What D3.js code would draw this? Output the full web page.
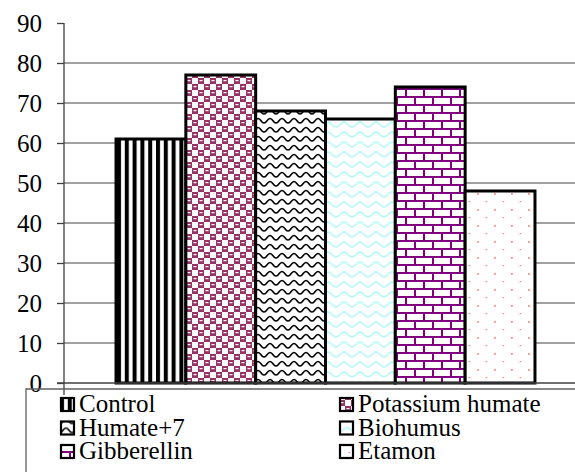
<!DOCTYPE html>
<html><head><meta charset="utf-8">
<script src="https://cdn.jsdelivr.net/npm/d3@7"></script>
<style>html,body{margin:0;padding:0;background:#fff;font-family:"Liberation Serif",serif;}
#chart{position:relative;width:575px;height:472px;}
svg{display:block;}</style>
</head><body>
<div id="chart"></div>
<script>
const series = ["Control","Potassium humate","Humate+7","Biohumus","Gibberellin","Etamon"];
const values = [61, 77, 68, 66, 74, 48];
const yTicks = [0,10,20,30,40,50,60,70,80,90];
const patternIds = ["pControl","pPotassium","pHumate","pBio","pGib","pEta"];

const FONT = "Liberation Serif, serif";
const W = 575, H = 472;
const svg = d3.select("#chart").append("svg").attr("width", W).attr("height", H)
  .attr("font-family", FONT).style("font-family", "Liberation Serif, serif");
const defs = svg.append("defs");

function pat(id, w, h){ return defs.append("pattern").attr("id", id).attr("patternUnits","userSpaceOnUse").attr("width", w).attr("height", h); }
let p = pat("pControl", 7.8, 8);
p.append("rect").attr("width",7.8).attr("height",8).attr("fill","#fff");
p.append("rect").attr("width",4).attr("height",8).attr("fill","#000");

p = pat("pPotassium", 12, 12);
p.append("rect").attr("width",12).attr("height",12).attr("fill","#993366");
p.append("rect").attr("x",6).attr("y",0).attr("width",6).attr("height",6).attr("fill","#fff");
p.append("rect").attr("x",0).attr("y",6).attr("width",6).attr("height",6).attr("fill","#fff");
p.append("rect").attr("x",1.5).attr("y",2).attr("width",3).attr("height",1.2).attr("fill","#fff");
p.append("rect").attr("x",7.5).attr("y",8).attr("width",3).attr("height",1.2).attr("fill","#fff");

p = pat("pHumate", 12, 9);
p.append("rect").attr("width",12).attr("height",9).attr("fill","#fff");
p.append("path").attr("d","M0,6 C3,6 3,1.5 6,1.5 C9,1.5 9,6 12,6").attr("fill","none").attr("stroke","#000").attr("stroke-width",1.6);

p = pat("pBio", 16, 10);
p.append("rect").attr("width",16).attr("height",10).attr("fill","#fff");
p.append("path").attr("d","M0,7 C4,7 4,2 8,2 C12,2 12,7 16,7").attr("fill","none").attr("stroke","#c0f8f8").attr("stroke-width",1.8);

p = pat("pGib", 18, 16);
p.append("rect").attr("width",18).attr("height",16).attr("fill","#fff");
p.append("rect").attr("x",0).attr("y",0).attr("width",18).attr("height",2).attr("fill","#800080");
p.append("rect").attr("x",0).attr("y",8).attr("width",18).attr("height",2).attr("fill","#800080");
p.append("rect").attr("x",0).attr("y",0).attr("width",2).attr("height",8).attr("fill","#800080");
p.append("rect").attr("x",9).attr("y",8).attr("width",2).attr("height",8).attr("fill","#800080");

p = pat("pEta", 17, 16);
p.append("rect").attr("width",17).attr("height",16).attr("fill","#fff");
p.append("rect").attr("x",1).attr("y",1).attr("width",1.8).attr("height",1.8).attr("fill","#ff8a8a");
p.append("rect").attr("x",9.5).attr("y",9).attr("width",1.8).attr("height",1.2).attr("fill","#ff8a8a");

const axisX = 64, plotRight = 587;
const y = d3.scaleLinear().domain([0, 90]).range([383, 23]);
const x = d3.scaleBand().domain(series).range([axisX, plotRight]).paddingInner(0).paddingOuter(0.745);

svg.append("g").selectAll("line").data(yTicks.filter(t => t > 0 && t < 90)).join("line")
  .attr("x1", axisX).attr("x2", W).attr("y1", d => y(d)).attr("y2", d => y(d))
  .attr("stroke", "#808080").attr("stroke-width", 1.5);

const yAxis = d3.axisLeft(y).tickValues(yTicks).tickSize(7).tickPadding(15).tickFormat(d3.format("d"));
const gy = svg.append("g").attr("transform", `translate(${axisX},0)`).call(yAxis)
  .attr("font-family", FONT).attr("font-size", 25);
gy.select(".domain").remove();
gy.selectAll(".tick line").attr("stroke", "#404040").attr("stroke-width", 1.3);
gy.selectAll(".tick text").attr("font-size", 25).attr("fill", "#000")
  .attr("font-family", FONT).style("font-family", "Liberation Serif, serif").attr("dy", "0.35em");
svg.append("line").attr("x1", axisX).attr("x2", axisX).attr("y1", y(90)).attr("y2", 395)
  .attr("stroke", "#404040").attr("stroke-width", 1.3);

svg.append("g").selectAll("rect").data(values).join("rect")
  .attr("x", (d,i) => x(series[i]))
  .attr("width", x.bandwidth())
  .attr("y", d => y(d))
  .attr("height", d => y(0) - y(d))
  .attr("fill", (d,i) => `url(#${patternIds[i]})`)
  .attr("stroke", "#000").attr("stroke-width", 3);

svg.append("line").attr("x1", axisX - 7).attr("x2", W).attr("y1", y(0)).attr("y2", y(0))
  .attr("stroke", "#404040").attr("stroke-width", 1.5);

svg.append("path").attr("d", `M${W},389 L26,389 L26,${H}`).attr("fill","none")
  .attr("stroke", "#606060").attr("stroke-width", 1.3);
const colX = [60, 339], rowBase = [412, 435.5, 459];
const lg = svg.append("g").selectAll("g").data(series).join("g")
  .attr("transform", (d,i) => `translate(${colX[i%2]},${rowBase[Math.floor(i/2)]})`);
lg.append("rect").attr("x", 1).attr("y", -14).attr("width", 13).attr("height", 13)
  .attr("fill", (d,i) => `url(#${patternIds[i]})`).attr("stroke", "#000").attr("stroke-width", 2.2);
lg.append("text").attr("x", 19).attr("y", 0).attr("font-size", 25).attr("font-family", FONT)
  .style("font-family", "Liberation Serif, serif").attr("fill", "#000").text(d => d);
</script>
</body></html>
